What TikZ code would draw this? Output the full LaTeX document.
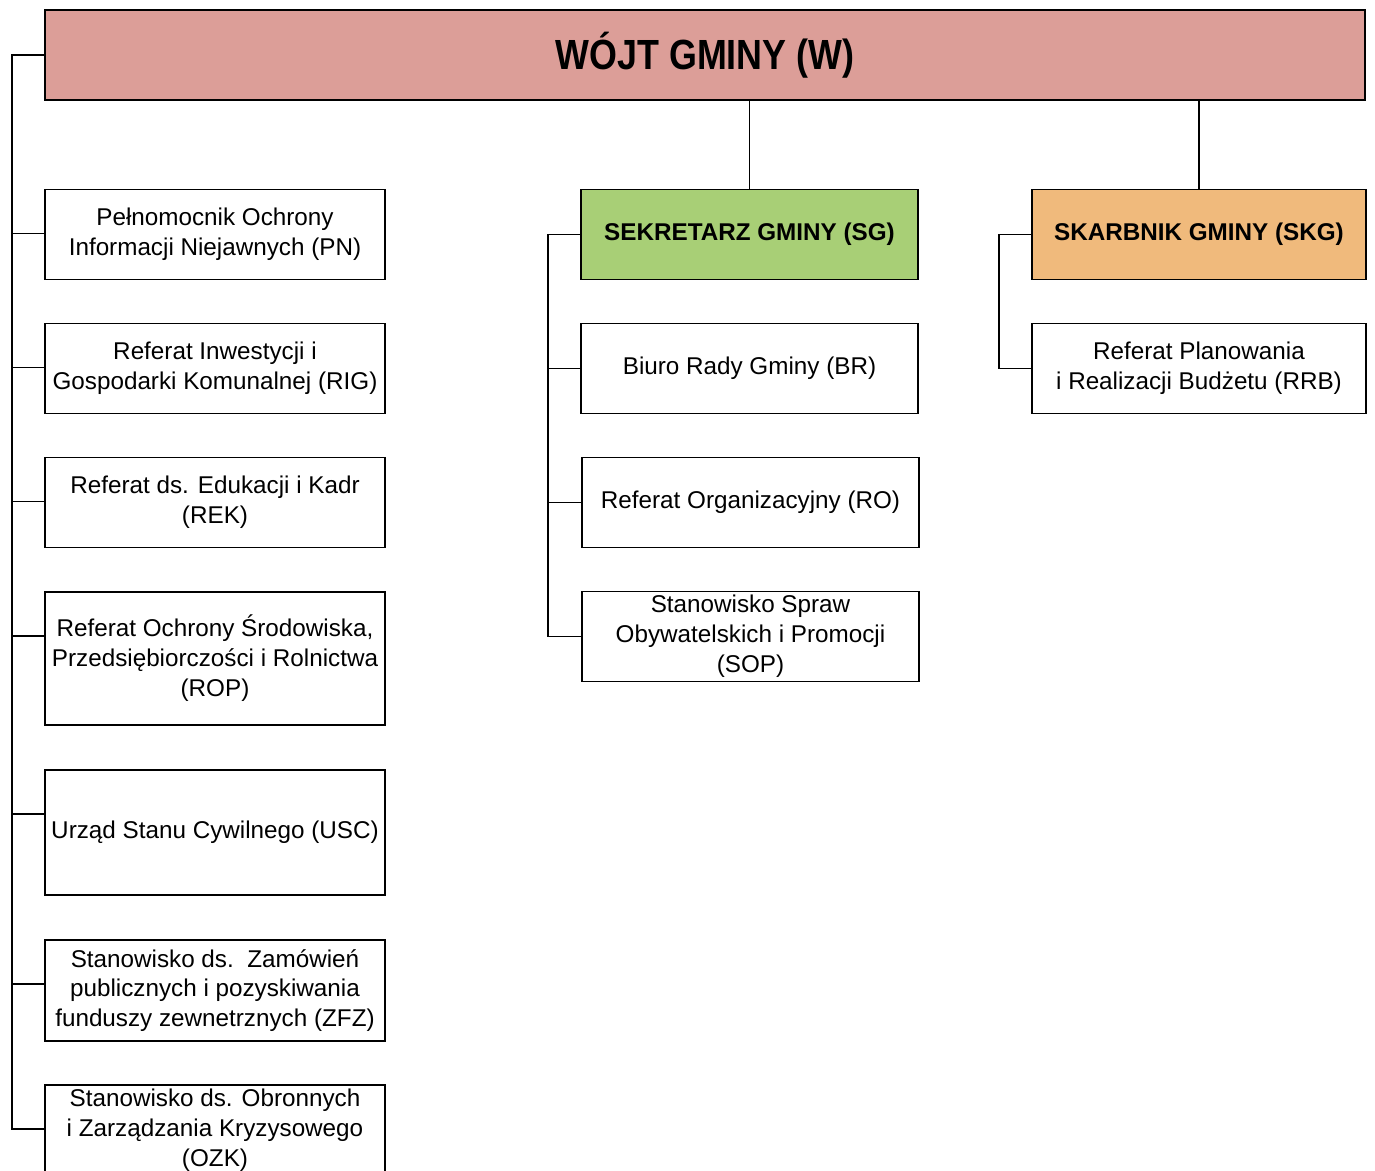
\documentclass[tikz,border=0pt]{standalone}
\usepackage{fontspec}
\setmainfont{Liberation Sans}
\usepackage{tikz,graphicx}
\definecolor{wojtpink}{RGB}{220,158,152}
\definecolor{sekgreen}{RGB}{168,207,118}
\definecolor{skarborange}{RGB}{240,186,124}

\begin{document}
\begin{tikzpicture}[auto,
    unit/.style={draw, line width=1.1pt, minimum width=6.8cm, minimum height=1.8cm, inner sep=1pt, align=center, font=\fontsize{13.8}{17}\selectfont},
    head/.style={unit, font=\fontsize{13.8}{17}\selectfont\bfseries},
    link/.style={line width=1pt}]

    \useasboundingbox (0, 0) rectangle (27.5, -23.42);

    \node[unit, fill=wojtpink, minimum width=26.4cm] (w) at (14.1, -1.1) {\scalebox{0.85}[1]{\fontsize{24}{28}\selectfont\bfseries WÓJT GMINY (W)}};

    \node[unit] (pn) at (4.3, -4.69) {Pełnomocnik Ochrony\\Informacji Niejawnych (PN)};
    \node[unit] (rig) at (4.3, -7.37) {Referat Inwestycji i\\Gospodarki Komunalnej (RIG)};
    \node[unit] (rek) at (4.3, -10.05) {Referat ds. Edukacji i Kadr\\(REK)};
    \node[unit, minimum height=2.66cm] (rop) at (4.3, -13.17) {Referat Ochrony Środowiska,\\Przedsiębiorczości i Rolnictwa\\(ROP)};
    \node[unit, minimum height=2.5cm] (usc) at (4.3, -16.65) {Urząd Stanu Cywilnego (USC)};
    \node[unit, minimum height=2.02cm] (zfz) at (4.3, -19.81) {Stanowisko ds.\ \ Zamówień\\publicznych i pozyskiwania\\funduszy zewnetrznych (ZFZ)};
    \node[unit] (ozk) at (4.3, -22.6) {Stanowisko ds. Obronnych\\i Zarządzania Kryzysowego\\(OZK)};

    \node[head, fill=sekgreen, minimum width=6.74cm] (sg) at (14.99, -4.69) {SEKRETARZ GMINY (SG)};
    \node[unit, minimum width=6.74cm] (br) at (14.99, -7.37) {Biuro Rady Gminy (BR)};
    \node[unit, minimum width=6.74cm] (ro) at (15.01, -10.05) {Referat Organizacyjny (RO)};
    \node[unit, minimum width=6.74cm] (sop) at (15.01, -12.73) {Stanowisko Spraw\\Obywatelskich i Promocji\\(SOP)};

    \node[head, fill=skarborange, minimum width=6.68cm] (skg) at (23.98, -4.69) {SKARBNIK GMINY (SKG)};
    \node[unit, minimum width=6.68cm] (rrb) at (23.98, -7.37) {Referat Planowania\\i Realizacji Budżetu (RRB)};

    \draw [link] (w.west) -- ++(-0.64, 0) |- ([yshift=-0.9cm]ozk.north west);
    \foreach \n in {pn, rig, rek, rop, usc, zfz}
        \draw [link] ([yshift=-0.9cm]\n.north west) -- ++(-0.64, 0);

    \draw [link] (sg.north) -- (sg.north |- w.south);
    \draw [link] (sg.west) -- ++(-0.64, 0) |- (sop.west);
    \draw [link] (br.west) -- ++(-0.64, 0);
    \draw [link] (ro.west) -- ++(-0.66, 0);

    \draw [link] (skg.north) -- (skg.north |- w.south);
    \draw [link] (skg.west) -- ++(-0.64, 0) |- (rrb.west);

\end{tikzpicture}
\end{document}
